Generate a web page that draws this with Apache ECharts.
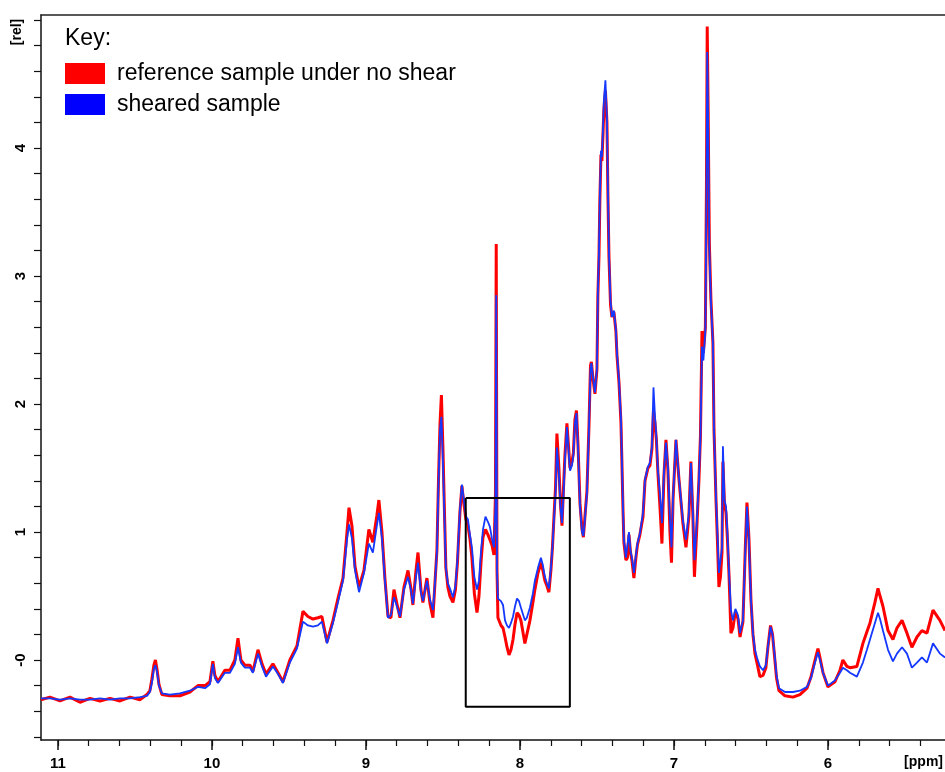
<!DOCTYPE html>
<html>
<head>
<meta charset="utf-8">
<title>1H NMR spectra – sheared vs. unsheared</title>
<script src="https://cdn.jsdelivr.net/npm/echarts@6/dist/echarts.min.js"></script>
<style>
  html, body { margin: 0; padding: 0; background: #fff; }
  #chart { width: 945px; height: 772px; }
</style>
</head>
<body>
<div id="chart"></div>
<script>
// Chemical shift positions (ppm), shared by both spectra
const ppm = [
  11.110, 11.052, 10.987, 10.922, 10.857, 10.792, 10.727, 10.662, 10.597, 10.532,
  10.468, 10.422, 10.403, 10.390, 10.377, 10.367, 10.357, 10.344, 10.325, 10.273,
  10.208, 10.143, 10.091, 10.045, 10.013, 9.994, 9.981, 9.961, 9.916, 9.883,
  9.851, 9.831, 9.812, 9.786, 9.753, 9.734, 9.701, 9.675, 9.649, 9.604,
  9.571, 9.539, 9.494, 9.448, 9.409, 9.377, 9.344, 9.312, 9.286, 9.253,
  9.214, 9.182, 9.149, 9.123, 9.110, 9.091, 9.071, 9.045, 9.013, 8.981,
  8.955, 8.929, 8.916, 8.896, 8.877, 8.857, 8.838, 8.818, 8.799, 8.779,
  8.753, 8.727, 8.708, 8.695, 8.675, 8.662, 8.643, 8.630, 8.604, 8.584,
  8.565, 8.552, 8.539, 8.529, 8.519, 8.510, 8.500, 8.490, 8.481, 8.468,
  8.455, 8.435, 8.419, 8.406, 8.390, 8.377, 8.364, 8.351, 8.338, 8.325,
  8.312, 8.296, 8.279, 8.266, 8.253, 8.240, 8.224, 8.208, 8.195, 8.182,
  8.169, 8.159, 8.154, 8.149, 8.143, 8.123, 8.110, 8.097, 8.084, 8.071,
  8.058, 8.045, 8.032, 8.019, 8.006, 7.994, 7.981, 7.968, 7.955, 7.935,
  7.916, 7.903, 7.883, 7.864, 7.851, 7.838, 7.825, 7.812, 7.799, 7.789,
  7.779, 7.769, 7.760, 7.747, 7.737, 7.727, 7.717, 7.708, 7.695, 7.685,
  7.675, 7.662, 7.653, 7.643, 7.633, 7.623, 7.610, 7.597, 7.588, 7.578,
  7.565, 7.552, 7.542, 7.536, 7.526, 7.513, 7.500, 7.494, 7.487, 7.481,
  7.474, 7.468, 7.461, 7.455, 7.445, 7.435, 7.429, 7.422, 7.412, 7.403,
  7.390, 7.377, 7.370, 7.357, 7.344, 7.338, 7.331, 7.325, 7.312, 7.302,
  7.292, 7.282, 7.273, 7.260, 7.247, 7.237, 7.221, 7.201, 7.188, 7.169,
  7.156, 7.143, 7.133, 7.123, 7.114, 7.104, 7.091, 7.078, 7.065, 7.052,
  7.039, 7.026, 7.016, 7.006, 6.987, 6.968, 6.942, 6.922, 6.903, 6.890,
  6.877, 6.867, 6.851, 6.838, 6.828, 6.818, 6.809, 6.796, 6.789, 6.784,
  6.778, 6.770, 6.760, 6.747, 6.740, 6.727, 6.718, 6.708, 6.698, 6.688,
  6.682, 6.672, 6.662, 6.653, 6.643, 6.630, 6.617, 6.601, 6.584, 6.571,
  6.552, 6.536, 6.526, 6.513, 6.500, 6.487, 6.474, 6.461, 6.442, 6.422,
  6.403, 6.390, 6.373, 6.360, 6.347, 6.334, 6.318, 6.279, 6.227, 6.182,
  6.136, 6.110, 6.084, 6.065, 6.052, 6.032, 6.000, 5.955, 5.922, 5.903,
  5.877, 5.857, 5.812, 5.773, 5.747, 5.727, 5.695, 5.675, 5.662, 5.643,
  5.610, 5.578, 5.552, 5.519, 5.487, 5.455, 5.422, 5.390, 5.357, 5.318,
  5.273, 5.240
];

// Reference sample under no shear (relative intensity)
const reference = [
  -0.31, -0.29, -0.32, -0.29, -0.33, -0.30, -0.32, -0.30, -0.32, -0.29,
  -0.31, -0.27, -0.24, -0.15, -0.04, 0.00, -0.07, -0.19, -0.27, -0.28,
  -0.28, -0.25, -0.20, -0.20, -0.17, -0.01, -0.12, -0.17, -0.08, -0.08,
  0.00, 0.17, 0.00, -0.04, -0.04, -0.09, 0.08, -0.03, -0.11, -0.03,
  -0.10, -0.17, 0.00, 0.11, 0.38, 0.34, 0.32, 0.33, 0.34, 0.14,
  0.31, 0.48, 0.64, 1.00, 1.19, 1.05, 0.73, 0.57, 0.70, 1.02,
  0.92, 1.13, 1.25, 1.00, 0.64, 0.34, 0.33, 0.55, 0.44, 0.33,
  0.57, 0.70, 0.56, 0.43, 0.70, 0.84, 0.55, 0.45, 0.64, 0.44,
  0.33, 0.60, 0.86, 1.40, 1.85, 2.07, 1.65, 1.15, 0.72, 0.57,
  0.50, 0.45, 0.55, 0.76, 1.15, 1.36, 1.22, 1.10, 1.05, 0.95,
  0.80, 0.52, 0.37, 0.50, 0.76, 0.96, 1.02, 0.98, 0.94, 0.90,
  0.82, 1.30, 3.25, 0.70, 0.33, 0.27, 0.25, 0.18, 0.10, 0.04,
  0.08, 0.16, 0.28, 0.37, 0.35, 0.31, 0.22, 0.13, 0.20, 0.31,
  0.45, 0.55, 0.68, 0.76, 0.70, 0.62, 0.58, 0.53, 0.70, 0.88,
  1.12, 1.35, 1.77, 1.50, 1.22, 1.05, 1.35, 1.60, 1.85, 1.68,
  1.50, 1.55, 1.62, 1.88, 1.95, 1.68, 1.22, 1.02, 0.96, 1.12,
  1.32, 1.82, 2.30, 2.33, 2.20, 2.08, 2.27, 2.85, 3.15, 3.60,
  3.95, 3.90, 4.10, 4.30, 4.45, 4.20, 3.65, 3.15, 2.78, 2.68,
  2.72, 2.57, 2.38, 2.17, 1.85, 1.55, 1.18, 0.92, 0.78, 0.80,
  0.98, 0.84, 0.78, 0.64, 0.80, 0.90, 0.98, 1.12, 1.40, 1.50,
  1.52, 1.65, 1.95, 1.85, 1.72, 1.46, 1.20, 0.91, 1.44, 1.72,
  1.48, 1.00, 0.76, 1.25, 1.72, 1.42, 1.07, 0.88, 1.12, 1.55,
  1.12, 0.65, 1.05, 1.40, 1.75, 2.57, 2.40, 2.60, 3.70, 4.95,
  4.30, 3.25, 2.82, 2.48, 1.80, 1.25, 0.94, 0.57, 0.65, 0.84,
  1.55, 1.22, 1.15, 0.95, 0.68, 0.21, 0.25, 0.38, 0.32, 0.18,
  0.30, 0.90, 1.23, 0.95, 0.47, 0.20, 0.05, -0.02, -0.13, -0.12,
  -0.06, 0.10, 0.27, 0.20, 0.03, -0.14, -0.24, -0.28, -0.29, -0.27,
  -0.22, -0.13, 0.00, 0.09, 0.02, -0.10, -0.21, -0.17, -0.08, 0.00,
  -0.05, -0.06, -0.05, 0.13, 0.22, 0.29, 0.45, 0.56, 0.50, 0.42,
  0.23, 0.16, 0.25, 0.31, 0.21, 0.10, 0.18, 0.23, 0.21, 0.39,
  0.31, 0.23
];

// Sheared sample (relative intensity)
const sheared = [
  -0.30, -0.30, -0.31, -0.30, -0.31, -0.31, -0.30, -0.31, -0.30, -0.30,
  -0.29, -0.28, -0.25, -0.18, -0.07, -0.04, -0.09, -0.20, -0.26, -0.27,
  -0.26, -0.24, -0.21, -0.22, -0.19, -0.03, -0.14, -0.18, -0.10, -0.10,
  -0.03, 0.10, -0.02, -0.06, -0.06, -0.10, 0.05, -0.05, -0.13, -0.05,
  -0.11, -0.18, -0.02, 0.09, 0.30, 0.27, 0.26, 0.27, 0.30, 0.13,
  0.29, 0.45, 0.62, 0.94, 1.06, 0.95, 0.70, 0.53, 0.68, 0.91,
  0.84, 1.05, 1.15, 0.95, 0.62, 0.33, 0.35, 0.49, 0.42, 0.34,
  0.55, 0.65, 0.55, 0.44, 0.65, 0.76, 0.53, 0.46, 0.62, 0.47,
  0.39, 0.60, 0.85, 1.38, 1.80, 1.90, 1.55, 1.10, 0.72, 0.60,
  0.56, 0.49, 0.58, 0.78, 1.17, 1.37, 1.25, 1.12, 1.10, 0.98,
  0.88, 0.65, 0.55, 0.62, 0.85, 1.02, 1.12, 1.08, 1.04, 0.95,
  0.88, 1.20, 2.85, 0.70, 0.48, 0.46, 0.43, 0.31, 0.27, 0.25,
  0.29, 0.34, 0.42, 0.48, 0.46, 0.41, 0.36, 0.31, 0.33, 0.41,
  0.52, 0.62, 0.72, 0.80, 0.74, 0.65, 0.60, 0.56, 0.72, 0.88,
  1.10, 1.30, 1.66, 1.46, 1.20, 1.07, 1.30, 1.56, 1.82, 1.65,
  1.48, 1.52, 1.60, 1.85, 1.93, 1.66, 1.20, 1.00, 0.97, 1.10,
  1.30, 1.80, 2.27, 2.32, 2.21, 2.09, 2.28, 2.87, 3.18, 3.63,
  3.98, 3.93, 4.14, 4.37, 4.53, 4.22, 3.70, 3.18, 2.81, 2.68,
  2.73, 2.58, 2.40, 2.19, 1.88, 1.56, 1.20, 0.94, 0.80, 0.81,
  1.00, 0.85, 0.80, 0.68, 0.82, 0.91, 0.99, 1.15, 1.41, 1.51,
  1.54, 1.67, 2.13, 1.90, 1.74, 1.48, 1.30, 1.07, 1.46, 1.70,
  1.51, 1.10, 0.88, 1.27, 1.72, 1.43, 1.09, 0.94, 1.15, 1.54,
  1.15, 0.78, 1.09, 1.41, 1.74, 2.45, 2.34, 2.58, 3.60, 4.75,
  4.20, 3.20, 2.80, 2.48, 1.80, 1.27, 1.00, 0.68, 0.78, 0.88,
  1.67, 1.25, 1.20, 1.00, 0.70, 0.39, 0.31, 0.40, 0.35, 0.21,
  0.31, 0.88, 1.20, 0.94, 0.47, 0.21, 0.08, 0.02, -0.05, -0.08,
  -0.04, 0.10, 0.26, 0.20, 0.05, -0.12, -0.22, -0.25, -0.25, -0.24,
  -0.21, -0.14, -0.02, 0.06, 0.00, -0.10, -0.20, -0.16, -0.10, -0.06,
  -0.08, -0.10, -0.13, -0.02, 0.08, 0.16, 0.29, 0.37, 0.32, 0.23,
  0.08, -0.01, 0.05, 0.10, 0.05, -0.06, -0.02, 0.02, -0.02, 0.13,
  0.05, 0.02
];

// Highlighted window: corners in (ppm, rel)
const boxPpm = [8.352, 7.676, 7.676, 8.352, 8.352];
const boxRel = [1.266, 1.266, -0.365, -0.365, 1.266];

// Axis ticks
const xMajorTicks = [6, 7, 8, 9, 10, 11];
const xMinorTicks = [
  5.4, 5.6, 5.8, 6.0, 6.2, 6.4, 6.6, 6.8, 7.0, 7.2, 7.4, 7.6, 7.8,
  8.0, 8.2, 8.4, 8.6, 8.8, 9.0, 9.2, 9.4, 9.6, 9.8, 10.0, 10.2, 10.4,
  10.6, 10.8, 11.0
];
const yLabelTicks = [0, 1, 2, 3, 4];
const yTicks = [
  -0.6, -0.4, -0.2, 0, 0.2, 0.4, 0.6, 0.8, 1.0, 1.2, 1.4, 1.6, 1.8,
  2.0, 2.2, 2.4, 2.6, 2.8, 3.0, 3.2, 3.4, 3.6, 3.8, 4.0, 4.2, 4.4,
  4.6, 4.8, 5.0
];

const X_MIN = 5.24, X_MAX = 11.11;
const Y_MIN = -0.625, Y_MAX = 5.04;

const FONT = 'Liberation Sans, Arial, sans-serif';
const AXIS_COLOR = '#111';

const chart = echarts.init(document.getElementById('chart'), null, { renderer: 'canvas' });

const baseX = {
  type: 'value',
  gridIndex: 0,
  min: X_MIN,
  max: X_MAX,
  inverse: true,
  splitLine: { show: false }
};

chart.setOption({
  animation: false,
  backgroundColor: '#ffffff',
  grid: { left: 41, right: 0, top: 15, bottom: 32, containLabel: false },
  legend: {
    orient: 'vertical',
    left: 65,
    top: 62,
    padding: 0,
    itemWidth: 40,
    itemHeight: 21,
    itemGap: 8,
    icon: 'rect',
    selectedMode: false,
    textStyle: { fontFamily: FONT, fontSize: 23, color: '#000', padding: [0, 0, 0, 7] },
    data: ['reference sample under no shear', 'sheared sample']
  },
  graphic: [
    { type: 'text', left: 65, top: 27, style: { text: 'Key:', font: '23px ' + FONT, fill: '#000' } },
    { type: 'text', right: 2, top: 755, style: { text: '[ppm]', font: 'bold 14px ' + FONT, fill: '#000' } },
    { type: 'text', x: 17, y: 32, rotation: Math.PI / 2,
      style: { text: '[rel]', font: 'bold 14px ' + FONT, fill: '#000', align: 'center', verticalAlign: 'middle' } }
  ],
  xAxis: [
    Object.assign({}, baseX, {
      position: 'bottom',
      axisLine: { show: true, onZero: false, lineStyle: { color: AXIS_COLOR, width: 1.5 } },
      axisTick: { show: true, length: 10, lineStyle: { color: AXIS_COLOR, width: 1.5 }, customValues: xMajorTicks },
      axisLabel: {
        show: true, margin: 16, customValues: xMajorTicks,
        fontFamily: FONT, fontSize: 15, fontWeight: 'bold', color: '#000'
      }
    }),
    Object.assign({}, baseX, {
      position: 'bottom',
      axisLine: { show: false, onZero: false },
      axisTick: { show: true, length: 6, lineStyle: { color: AXIS_COLOR, width: 1.2 }, customValues: xMinorTicks },
      axisLabel: { show: false }
    }),
    Object.assign({}, baseX, {
      position: 'top',
      axisLine: { show: true, onZero: false, lineStyle: { color: '#222', width: 1.5 } },
      axisTick: { show: false },
      axisLabel: { show: false }
    })
  ],
  yAxis: {
    type: 'value',
    min: Y_MIN,
    max: Y_MAX,
    splitLine: { show: false },
    axisLine: { show: true, onZero: false, lineStyle: { color: AXIS_COLOR, width: 1.5 } },
    axisTick: { show: true, length: 7, lineStyle: { color: AXIS_COLOR, width: 1.2 }, customValues: yTicks },
    axisLabel: {
      show: true, margin: 13, rotate: 90, customValues: yLabelTicks,
      fontFamily: FONT, fontSize: 15, fontWeight: 'bold', color: '#000',
      formatter: v => (v === 0 ? '-0' : String(v))
    }
  },
  series: [
    {
      name: 'reference sample under no shear',
      type: 'line',
      xAxisIndex: 0,
      data: ppm.map((p, i) => [p, reference[i]]),
      showSymbol: false,
      symbol: 'none',
      color: '#ff0000',
      lineStyle: { color: '#ff0000', width: 3 },
      z: 2
    },
    {
      name: 'sheared sample',
      type: 'line',
      xAxisIndex: 0,
      data: ppm.map((p, i) => [p, sheared[i]]),
      showSymbol: false,
      symbol: 'none',
      color: '#0000ff',
      lineStyle: { color: '#1438ff', width: 1.8 },
      z: 3
    },
    {
      name: 'window',
      type: 'line',
      xAxisIndex: 0,
      data: boxPpm.map((p, i) => [p, boxRel[i]]),
      showSymbol: false,
      symbol: 'none',
      silent: true,
      lineStyle: { color: '#000', width: 2 },
      z: 4
    }
  ]
});
</script>
</body>
</html>
